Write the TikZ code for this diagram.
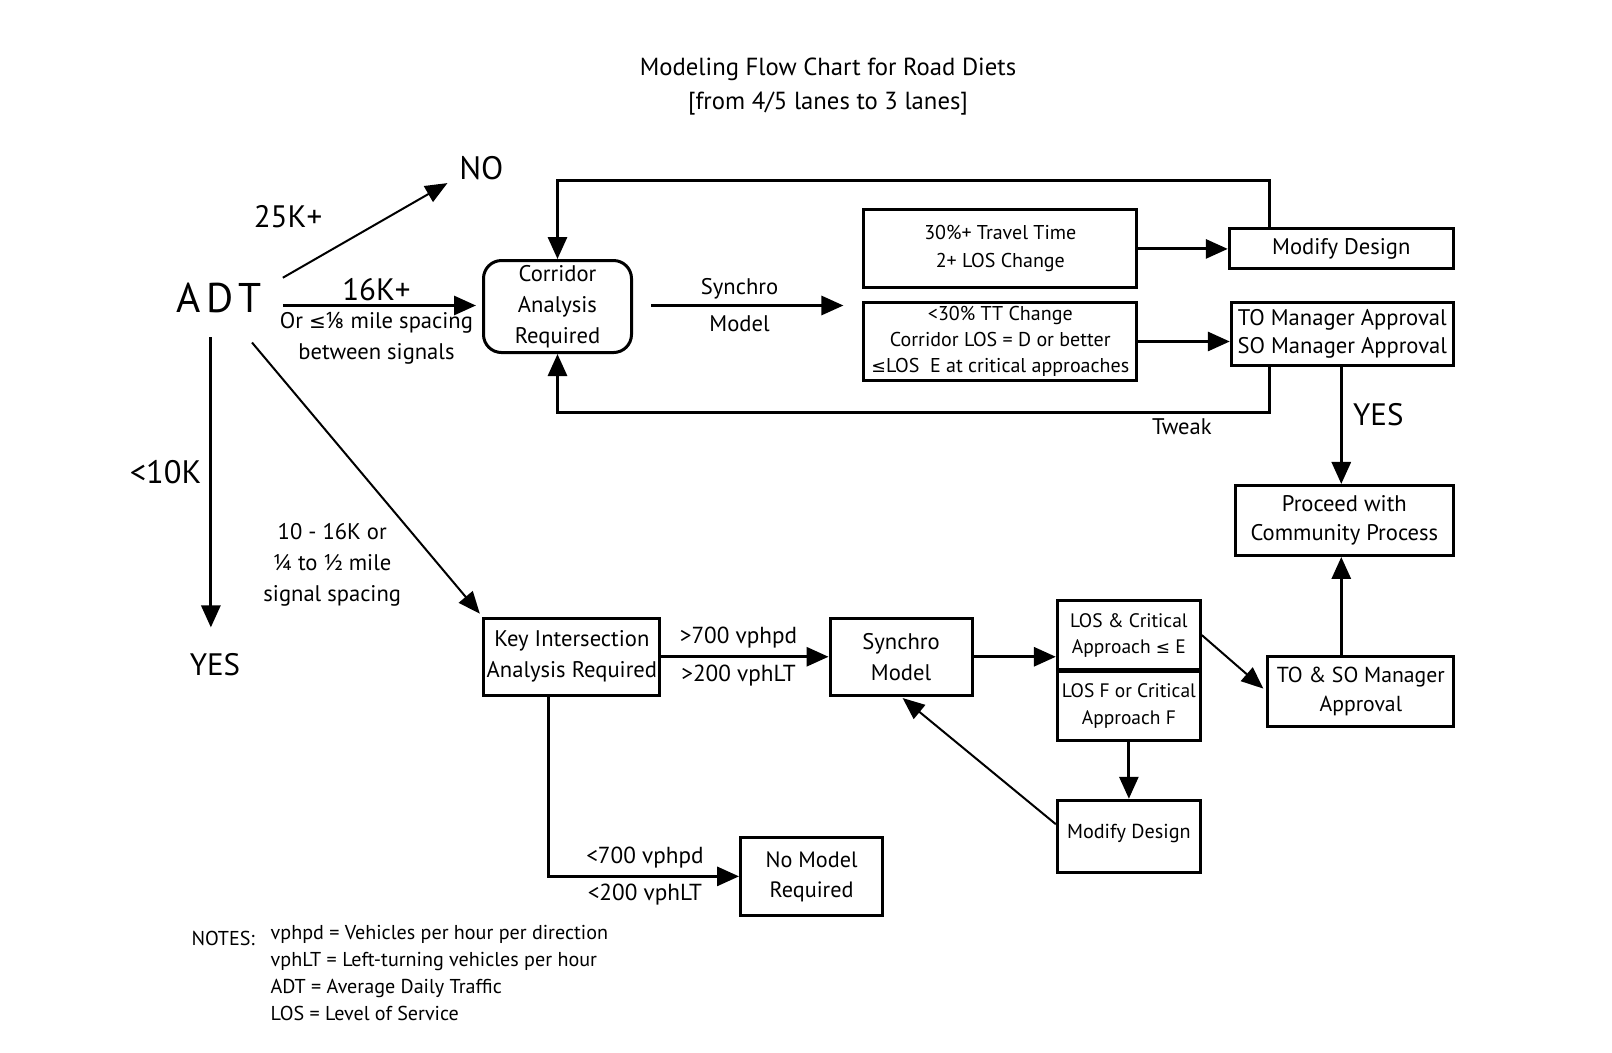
\documentclass[tikz,border=0pt]{standalone}
\usepackage{fontspec}
\setmainfont{PT Sans}
\newfontfamily\fr{Noto Sans}
\newfontfamily\dvfont{DejaVu Sans}
\usetikzlibrary{arrows.meta}
\begin{document}
\begin{tikzpicture}[x=1.0286pt,y=-1.0286pt,
 box/.style={draw, line width=3pt, align=center, inner sep=0pt},
 arr/.style={line width=3pt, -{Triangle[length=22pt,width=19pt]}},
 thinarr/.style={line width=2pt, -{Triangle[length=22pt,width=18pt]}},
 lbl/.style={align=center, inner sep=0pt},
 fA/.style={font=\fontsize{22.6}{31}\selectfont},
 fB/.style={font=\fontsize{20}{28}\selectfont},
 fC/.style={font=\fontsize{19.5}{27}\selectfont},
 fBig/.style={font=\fontsize{31}{34}\selectfont},
 fN/.style={font=\fontsize{20.1}{27}\selectfont}
]
\useasboundingbox (0,0) rectangle (1567.2,1022.8);

% title
\node[lbl, font=\fontsize{24.7}{30}\selectfont] (t1) at (805,67) {Modeling Flow Chart for Road Diets};
\node[lbl, font=\fontsize{24.7}{30}\selectfont] (t2) at (805,101) {[from 4/5 lanes to 3 lanes]};

% ADT and outcomes
\node[lbl, font=\fontsize{41.5}{44}\selectfont] (adt) at (213,290) {A\hspace{5pt}D\hspace{5pt}T};
\node[lbl, font=\fontsize{32.5}{34}\selectfont] (no) at (468,163) {NO};
\node[lbl, fBig] (yesL) at (209,646) {YES};
\node[lbl, fBig] (k25) at (280,211) {25K+};
\node[lbl, fBig] (k16) at (366,282) {16K+};
\node[lbl, fA] (or18) at (366,329) {Or {\dvfont\fontsize{20}{31}\selectfont ≤}{\fr ⅛} mile spacing\\between signals};
\node[lbl, font=\fontsize{32.5}{34}\selectfont] (k10) at (161,459) {<10K};
\node[lbl, fA] (k1016) at (323,549) {10 - 16K or\\¼ to ½ mile\\signal spacing};

% corridor branch
\node[box, fA, rounded corners=18pt, minimum width=148pt, minimum height=92pt] (corr) at (542,298) {Corridor\\Analysis\\Required};
\node[lbl, fA] (synlab) at (719,297) {Synchro\\[6pt]Model};
\node[box, fB, minimum width=273pt, minimum height=78pt] (b1) at (972.5,242) {30\%+ Travel Time\\2+ LOS Change};
\node[box, minimum width=273pt, minimum height=78pt, font=\fontsize{20}{26}\selectfont] (b2) at (972.5,332) {<30\% TT Change\\Corridor LOS = D or better\\{\dvfont\fontsize{17.5}{26}\selectfont ≤}LOS\ \ E at critical approaches};
\node[box, fA, minimum width=224pt, minimum height=40pt] (md1) at (1304,242) {Modify Design};
\node[box, minimum width=222pt, minimum height=63pt, font=\fontsize{22.6}{28.5}\selectfont] (tom) at (1305,324.5) {TO Manager Approval\\SO Manager Approval};
\node[lbl, fA] (tweak) at (1149,415) {Tweak};
\node[lbl, fBig] (yesR) at (1340,403) {YES};
\node[box, minimum width=218pt, minimum height=70pt, font=\fontsize{22.6}{28.5}\selectfont] (proc) at (1307,506) {Proceed with\\Community Process};

% key intersection branch
\node[box, fA, minimum width=176pt, minimum height=77pt] (key) at (556,638.5) {Key Intersection\\Analysis Required};
\node[lbl, font=\fontsize{23.2}{31}\selectfont] (gt) at (718,638.5) {>700 vphpd\\[7pt]>200 vphLT};
\node[box, fA, minimum width=142pt, minimum height=77pt] (syn) at (876,638.5) {Synchro\\Model};
\node[box, minimum width=143pt, minimum height=69pt, font=\fontsize{19.5}{26}\selectfont] (los1) at (1097.5,617.5) {LOS \& Critical\\Approach {\dvfont\fontsize{17}{26}\selectfont ≤} E};
\node[box, minimum width=143pt, minimum height=69pt, font=\fontsize{19.5}{27}\selectfont] (los2) at (1097.5,686.5) {LOS F or Critical\\Approach F};
\node[box, minimum width=186pt, minimum height=70pt, font=\fontsize{21.7}{29}\selectfont] (toso) at (1323,672) {TO \& SO Manager\\Approval};
\node[box, minimum width=143pt, minimum height=72pt, text depth=10pt, font=\fontsize{20.2}{27}\selectfont] (md2) at (1097.5,813) {Modify Design};
\node[box, minimum width=142pt, minimum height=78pt, font=\fontsize{22.2}{30}\selectfont] (nom) at (789,852) {No Model\\Required};
\node[lbl, font=\fontsize{23.2}{31}\selectfont] (lt) at (627,852) {<700 vphpd\\[6pt]<200 vphLT};

% notes
\node[lbl, fN, anchor=west] (notes) at (186,912) {NOTES:};
\node[lbl, fN, anchor=north west, align=left] (nl) at (263,899.5) {vphpd = Vehicles per hour per direction\\vphLT = Left-turning vehicles per hour\\ADT = Average Daily Traffic\\LOS = Level of Service};

% coordinates
\coordinate (a1) at (275,270);
\coordinate (tipno) at (435,178);
\coordinate (a2) at (275,297);
\coordinate (a3) at (205,328);
\coordinate (a3e) at (205,610);
\coordinate (a4) at (245,333);
\coordinate (s1) at (633,297);
\coordinate (s2) at (820,297);
\coordinate (lx) at (1234,0);
\coordinate (yx) at (1304,0);
\coordinate (kx) at (533,0);

% connectors
\draw[thinarr] (a1) -- (tipno);
\draw[arr, shorten >=6pt] (a2) -- (a2 -| corr.west);
\draw[arr] (a3) -- (a3e);
\draw[thinarr, shorten >=4pt] (a4) -- (key.north west);
\draw[arr] (s1) -- (s2);
\draw[arr] (b1.east) -- (md1.west);
\draw[arr] (b2.east) -- (b2.east -| tom.west);
\draw[arr] (md1.north -| lx) -- ++(0,-46) -| (corr.north);
\draw[arr] (tom.south -| lx) -- ++(0,44) -| (corr.south);
\draw[arr] (tom.south -| yx) -- (proc.north -| yx);
\draw[arr] (key.east) -- (syn.west);
\draw[arr] (syn.east) -- (syn.east -| los1.west);
\draw[thinarr, shorten >=4pt] (los1.east) -- (toso.west);
\draw[arr] (los2.south) -- (md2.north);
\draw[thinarr, shorten >=2pt] ([yshift=12pt]md2.west) -- (syn.south);
\draw[arr] (toso.north -| yx) -- (proc.south -| yx);
\draw[arr] (key.south -| kx) |- (nom.west);
\end{tikzpicture}
\end{document}
